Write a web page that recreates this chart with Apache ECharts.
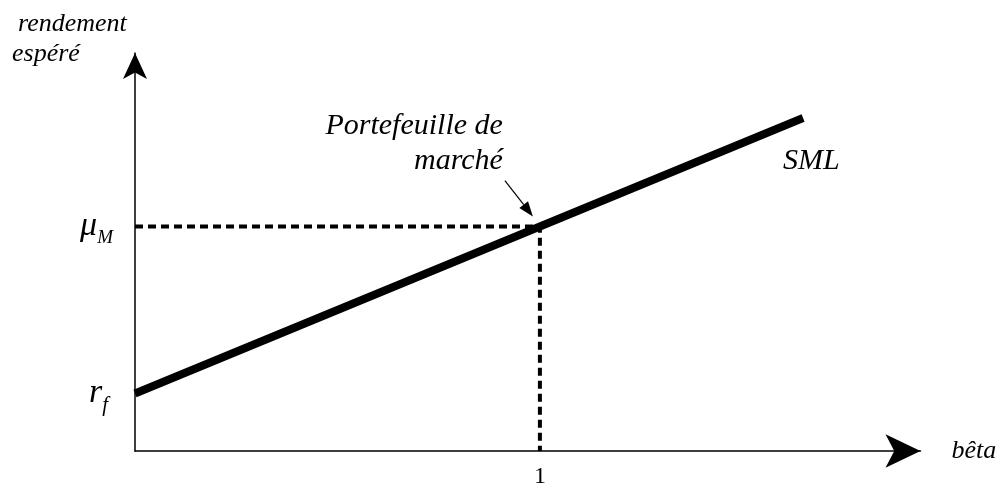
<!DOCTYPE html>
<html>
<head>
<meta charset="utf-8">
<script src="https://cdn.jsdelivr.net/npm/echarts@6/dist/echarts.min.js"></script>
<style>
    html, body { margin: 0; padding: 0; background: #fff; }
    #chart { width: 1006px; height: 489px; }
</style>
</head>
<body>
<div id="chart"></div>
<script>
// données
const betas = [0, 1, 1.65];
const smlValues = [2, 7.8, 11.57];
const rf = 2;
const muM = 7.8;
const betaM = 1;
const xMax = 1.94;
const yMax = 13.83;
const xTickValues = [1];
const yTickValues = [rf, muM];

const FONT = 'Liberation Serif';

// style de texte italique commun
const italic = (size, extra) => Object.assign({
    fontFamily: FONT, fontStyle: 'italic', fontSize: size, fill: '#000'
}, extra || {});

const chart = echarts.init(document.getElementById('chart'));

const option = {
    animation: false,
    grid: { left: 135, right: 85.5, top: 53, bottom: 35 },
    xAxis: {
        type: 'value',
        min: 0,
        max: xMax,
        name: 'bêta',
        nameLocation: 'end',
        nameGap: 31,
        nameTextStyle: { fontFamily: FONT, fontStyle: 'italic', fontSize: 26, color: '#000', padding: [0, 0, 16, 0] },
        axisLine: { show: true, symbol: ['none', 'arrow'], symbolSize: [25, 35], lineStyle: { color: '#000', width: 1.5 } },
        axisTick: { show: false },
        splitLine: { show: false },
        axisLabel: {
            customValues: xTickValues,
            margin: 14,
            fontFamily: FONT,
            fontSize: 24,
            color: '#000'
        }
    },
    yAxis: {
        type: 'value',
        min: 0,
        max: yMax,
        axisLine: { show: true, symbol: ['none', 'arrow'], symbolSize: [18, 26], lineStyle: { color: '#000', width: 1.5 } },
        axisTick: { show: false },
        splitLine: { show: false },
        axisLabel: {
            customValues: yTickValues,
            margin: 22,
            color: '#000',
            fontFamily: FONT,
            fontStyle: 'italic',
            formatter: v => v === rf ? '{v|r}{s2|f}' : '{v|μ}{s|M}',
            rich: {
                v: { fontFamily: FONT, fontStyle: 'italic', fontSize: 34, color: '#000' },
                s: { fontFamily: FONT, fontStyle: 'italic', fontSize: 19, color: '#000', padding: [22, 0, 0, 0] },
                s2: { fontFamily: FONT, fontStyle: 'italic', fontSize: 21, color: '#000', padding: [24, 5, 0, 0] }
            }
        }
    },
    series: [
        {
            name: 'pointillés',
            type: 'line',
            data: [[0, muM], [betaM, muM], [betaM, 0]],
            symbol: 'none',
            z: 1,
            lineStyle: { color: '#000', width: 4, type: [8, 5] }
        },
        {
            name: 'SML',
            type: 'line',
            data: betas.map((b, i) => [b, smlValues[i]]),
            symbol: 'none',
            z: 3,
            lineStyle: { color: '#000', width: 8, cap: 'butt' }
        }
    ]
};

chart.setOption(option);

// annotations placées à partir des coordonnées converties
const [mx, my] = chart.convertToPixel({ gridIndex: 0 }, [betaM, muM]);
const [ex, ey] = chart.convertToPixel({ gridIndex: 0 }, [betas[2], smlValues[2]]);

// flèche vers le portefeuille de marché
const start = [mx - 35, my - 46];
const tip = [mx - 7, my - 10];
const dx = tip[0] - start[0], dy = tip[1] - start[1];
const len = Math.sqrt(dx * dx + dy * dy);
const ux = dx / len, uy = dy / len;
const headLen = 15, headHalf = 5.5;
const base = [tip[0] - ux * headLen, tip[1] - uy * headLen];

chart.setOption({
    graphic: [
        { type: 'text', style: italic(26, { text: 'rendement', x: 18, y: 24, verticalAlign: 'middle' }) },
        { type: 'text', style: italic(26, { text: 'espéré', x: 12, y: 54, verticalAlign: 'middle' }) },
        {
            type: 'text',
            style: italic(30, {
                text: 'Portefeuille de\nmarché',
                x: mx - 37, y: my - 118,
                align: 'right', verticalAlign: 'top',
                lineHeight: 35
            })
        },
        { type: 'text', style: italic(30, { text: 'SML', x: ex - 20, y: ey + 43, verticalAlign: 'middle' }) },
        { type: 'line', shape: { x1: start[0], y1: start[1], x2: base[0], y2: base[1] }, style: { stroke: '#000', lineWidth: 1.2 } },
        {
            type: 'polygon',
            shape: { points: [tip, [base[0] - uy * headHalf, base[1] + ux * headHalf], [base[0] + uy * headHalf, base[1] - ux * headHalf]] },
            style: { fill: '#000' }
        }
    ]
});

window.addEventListener('resize', () => chart.resize());
</script>
</body>
</html>
